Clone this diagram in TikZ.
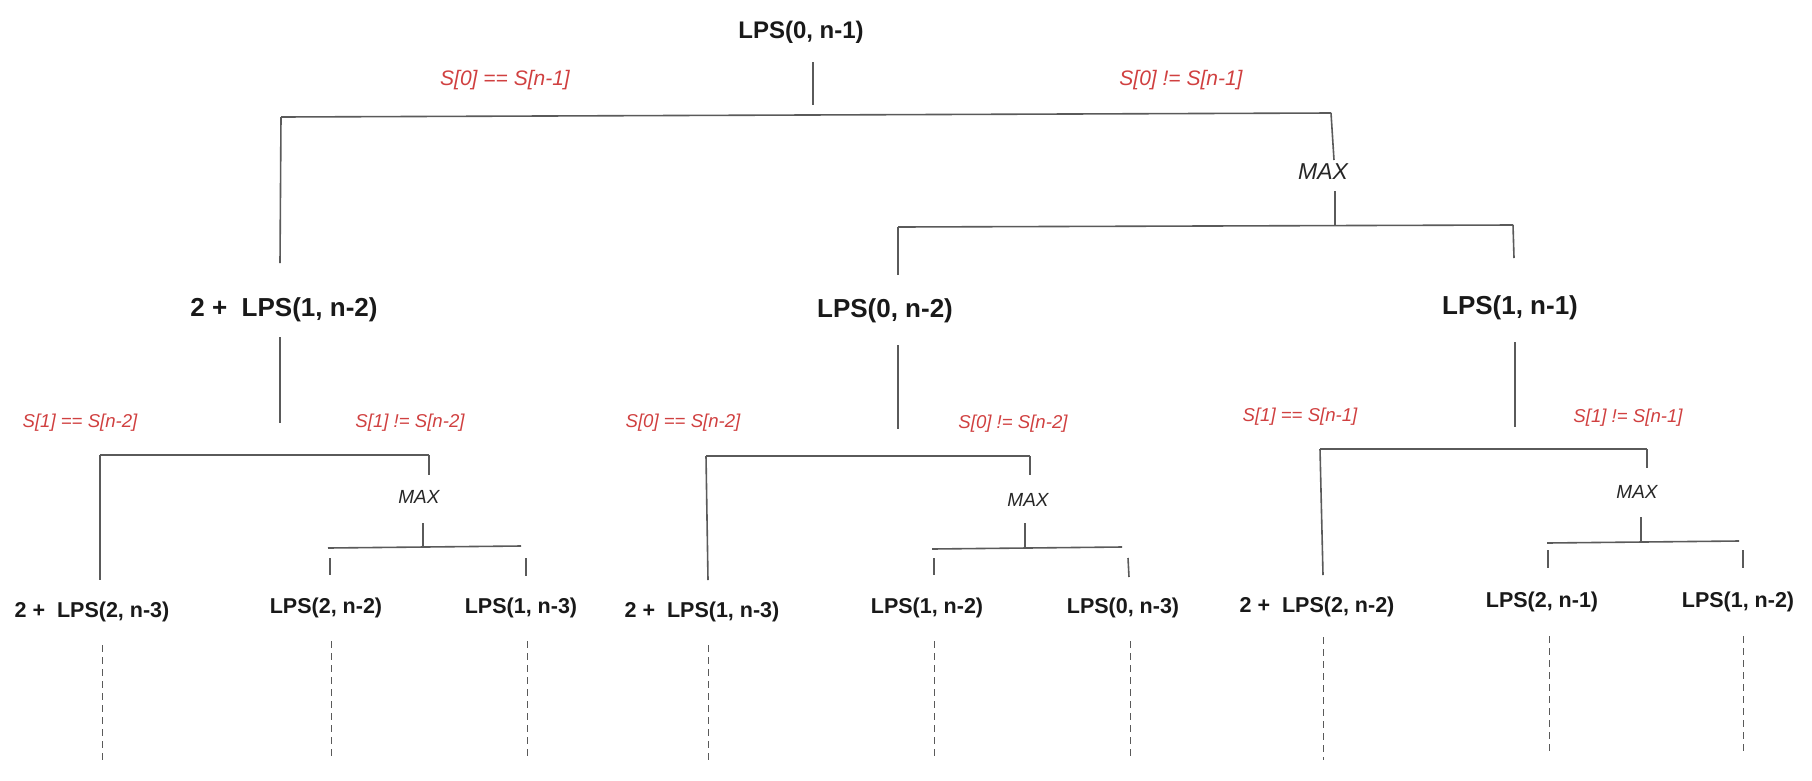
\documentclass[tikz,border=0pt]{standalone}
\usepackage{fontspec}
\setmainfont{Liberation Sans}
\definecolor{condred}{RGB}{208,64,64}
\definecolor{linegray}{RGB}{90,90,90}
\begin{document}
\begin{tikzpicture}[x=1pt,y=-1pt,
  lbl/.style={font=\bfseries\fontsize{#1}{#1}\selectfont, inner sep=0pt, text=black!90},
  cond/.style={font=\itshape\fontsize{#1}{#1}\selectfont, text=condred, inner sep=0pt},
  maxl/.style={font=\itshape\fontsize{#1}{#1}\selectfont, inner sep=0pt, text=black!85},
  ln/.style={draw=linegray, line width=1.6pt},
  dsh/.style={draw=linegray, line width=0.9pt, dash pattern=on 7pt off 5pt}]
\path[use as bounding box] (0,0) rectangle (1812,780);

% ---------- root ----------
\node[lbl=24] (root) at (801,32) {LPS(0, n-1)};
\draw[ln] (813,62) coordinate (rA) -- (813,105) coordinate (rB);
\draw[ln] (281,117) coordinate (b0L) -- (1331,113) coordinate (b0R);
\node[cond=21] (c0a) at (505,80) {S[0] == S[n-1]};
\node[cond=21] (c0b) at (1181,80) {S[0] != S[n-1]};
\draw[ln] (b0L) -- (280,263) coordinate (aTop);
\draw[ln] (b0R) -- (1334,160) coordinate (mTop);
\node[maxl=23] (max0) at (1323,172) {MAX};
\draw[ln] (1335,191) coordinate (mB1) -- (1335,226) coordinate (mB2);
\draw[ln] (898,227) coordinate (b1L) -- (1513,225) coordinate (b1R);
\draw[ln] (b1L) -- (898,275) coordinate (bTop);
\draw[ln] (b1R) -- (1514,258) coordinate (cTop);

% ---------- level 2 ----------
\node[lbl=26] (A) at (284,310) {2 +\ \ LPS(1, n-2)};
\node[lbl=26] (B) at (885,311) {LPS(0, n-2)};
\node[lbl=26] (C) at (1510,308) {LPS(1, n-1)};
\draw[ln] (280,337) coordinate (aB1) -- (280,423) coordinate (aB2);
\draw[ln] (898,345) coordinate (bB1) -- (898,429) coordinate (bB2);
\draw[ln] (1515,342) coordinate (cB1) -- (1515,427) coordinate (cB2);

% ---------- left subtree ----------
\node[cond=18.6] (c1a) at (80,423) {S[1] == S[n-2]};
\node[cond=18.6] (c1b) at (410,423) {S[1] != S[n-2]};
\draw[ln] (100,455) coordinate (b2L) -- (429,455) coordinate (b2R);
\draw[ln] (b2L) -- (100,580) coordinate (a1Top);
\draw[ln] (b2R) -- (429,475) coordinate (am);
\node[maxl=19] (max1) at (419,497) {MAX};
\draw[ln] (423,523) coordinate (am1) -- (423,547) coordinate (am2);
\draw[ln] (328,548) coordinate (b3L) -- (521,546) coordinate (b3R);
\draw[ln] (330,558) coordinate (a2t) -- (330,575) coordinate (a2b);
\draw[ln] (526,558) coordinate (a3t) -- (526,576) coordinate (a3b);
\node[lbl=21.5] (A1) at (92,612) {2 +\ \ LPS(2, n-3)};
\node[lbl=21.5] (A2) at (326,608) {LPS(2, n-2)};
\node[lbl=21.5] (A3) at (521,608) {LPS(1, n-3)};
\draw[dsh] (102,645) coordinate (d1t) -- (102,763) coordinate (d1b);
\draw[dsh] (331,641) coordinate (d2t) -- (331,760) coordinate (d2b);
\draw[dsh] (527,641) coordinate (d3t) -- (527,760) coordinate (d3b);

% ---------- middle subtree ----------
\node[cond=18.6] (c2a) at (683,423) {S[0] == S[n-2]};
\node[cond=18.6] (c2b) at (1013,424) {S[0] != S[n-2]};
\draw[ln] (706,456) coordinate (b4L) -- (1030,456) coordinate (b4R);
\draw[ln] (b4L) -- (708,580) coordinate (b1Top);
\draw[ln] (b4R) -- (1030,475) coordinate (bm);
\node[maxl=19] (max2) at (1028,500) {MAX};
\draw[ln] (1025,523) coordinate (bm1) -- (1025,548) coordinate (bm2);
\draw[ln] (932,549) coordinate (b5L) -- (1122,547) coordinate (b5R);
\draw[ln] (934,558) coordinate (b2t) -- (934,575) coordinate (b2b);
\draw[ln] (1128,558) coordinate (b3t) -- (1129,577) coordinate (b3b);
\node[lbl=21.5] (B1) at (702,612) {2 +\ \ LPS(1, n-3)};
\node[lbl=21.5] (B2) at (927,608) {LPS(1, n-2)};
\node[lbl=21.5] (B3) at (1123,608) {LPS(0, n-3)};
\draw[dsh] (708,645) coordinate (e1t) -- (708,760) coordinate (e1b);
\draw[dsh] (934,641) coordinate (e2t) -- (934,760) coordinate (e2b);
\draw[dsh] (1130,641) coordinate (e3t) -- (1130,760) coordinate (e3b);

% ---------- right subtree ----------
\node[cond=18.6] (c3a) at (1300,417) {S[1] == S[n-1]};
\node[cond=18.6] (c3b) at (1628,418) {S[1] != S[n-1]};
\draw[ln] (1320,449) coordinate (b6L) -- (1647,449) coordinate (b6R);
\draw[ln] (b6L) -- (1323,575) coordinate (c1Top);
\draw[ln] (b6R) -- (1647,468) coordinate (cm);
\node[maxl=19] (max3) at (1637,492) {MAX};
\draw[ln] (1641,517) coordinate (cm1) -- (1641,543) coordinate (cm2);
\draw[ln] (1547,543) coordinate (b7L) -- (1739,541) coordinate (b7R);
\draw[ln] (1548,550) coordinate (c2t) -- (1548,568) coordinate (c2b);
\draw[ln] (1743,550) coordinate (c3t) -- (1743,568) coordinate (c3b);
\node[lbl=21.5] (C1) at (1317,607) {2 +\ \ LPS(2, n-2)};
\node[lbl=21.5] (C2) at (1542,602) {LPS(2, n-1)};
\node[lbl=21.5] (C3) at (1738,602) {LPS(1, n-2)};
\draw[dsh] (1323,637) coordinate (f1t) -- (1323,760) coordinate (f1b);
\draw[dsh] (1549,636) coordinate (f2t) -- (1549,755) coordinate (f2b);
\draw[dsh] (1743,636) coordinate (f3t) -- (1743,755) coordinate (f3b);
\end{tikzpicture}
\end{document}
